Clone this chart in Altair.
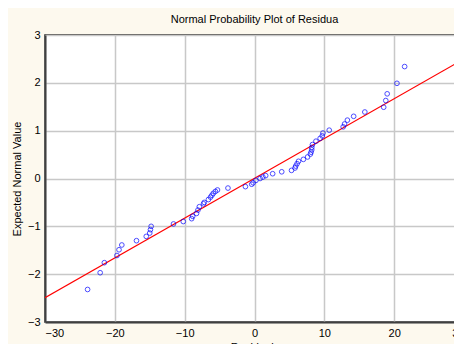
import altair as alt
import pandas as pd

residuals = [-23.9, -22.1, -21.5, -19.7, -19.4, -19.0, -16.9, -15.5, -15.0, -14.9, -14.8,
             -11.6, -10.2, -9.0, -8.85, -8.3, -8.1, -7.9, -7.3, -7.2, -6.6, -6.3, -6.1, -5.9,
             -5.6, -5.3, -3.8, -1.3, -0.4, -0.2, 0.2, 0.8, 1.2, 1.6, 2.6, 3.9, 5.3, 5.8, 5.9,
             6.1, 6.3, 7.0, 7.6, 8.0, 8.1, 8.2, 8.2, 8.3, 8.8, 9.4, 9.7, 9.8, 10.7, 12.7, 12.9,
             13.3, 14.2, 15.8, 18.5, 18.8, 19.0, 20.4, 21.5]
expected = [-2.32, -1.97, -1.76, -1.61, -1.49, -1.39, -1.30, -1.21, -1.14, -1.07, -1.00,
            -0.95, -0.90, -0.84, -0.79, -0.73, -0.66, -0.59, -0.53, -0.50, -0.44, -0.39, -0.35, -0.31,
            -0.27, -0.24, -0.20, -0.17, -0.12, -0.09, -0.04, 0.00, 0.03, 0.06, 0.10, 0.14, 0.17, 0.22, 0.26,
            0.31, 0.36, 0.40, 0.45, 0.51, 0.55, 0.60, 0.65, 0.71, 0.78, 0.84, 0.89, 0.95, 1.01, 1.08, 1.14,
            1.22, 1.30, 1.39, 1.49, 1.63, 1.77, 1.99, 2.34]

line_x = [-30, 30]
line_y = [-2.49, 2.5]

pts = pd.DataFrame({"x": residuals, "y": expected})
ln = pd.DataFrame({"x": line_x, "y": line_y})

xs = alt.Scale(domain=[-30, 30], nice=False, zero=False)
ys = alt.Scale(domain=[-3, 3], nice=False, zero=False)

xaxis = alt.Axis(values=[-30, -20, -10, 0, 10, 20, 30], title="Residuals", ticks=False,
                 labelPadding=5, titlePadding=3, gridColor="#c8c8c8", gridWidth=1.5,
                 domainColor="#404040", domainWidth=2)
yaxis = alt.Axis(values=[-3, -2, -1, 0, 1, 2, 3], title="Expected Normal Value", ticks=False,
                 labelPadding=5, titlePadding=5, gridColor="#c8c8c8", gridWidth=1.5,
                 domainColor="#404040", domainWidth=2)

line = alt.Chart(ln).mark_line(color="#ff0000", strokeWidth=1.2, clip=True).encode(
    x=alt.X("x:Q", scale=xs, axis=xaxis),
    y=alt.Y("y:Q", scale=ys, axis=yaxis),
)
points = alt.Chart(pts).mark_point(shape="circle", filled=False, color="#0000ff",
                                   size=22, strokeWidth=1).encode(
    x=alt.X("x:Q", scale=xs),
    y=alt.Y("y:Q", scale=ys),
)

chart = alt.layer(line, points).properties(
    width=419, height=287,
    title=alt.TitleParams("Normal Probability Plot of Residua", fontSize=11, fontWeight="normal",
                          font="Liberation Sans", color="#000000", offset=4),
    autosize=alt.AutoSizeParams(type="none"),
    padding={"left": 37, "top": 27, "right": -10, "bottom": 22},
    background="#fdf9ee",
).configure_view(
    stroke="#202020", strokeWidth=1.5, fill="white"
).configure_axis(
    labelFont="Liberation Sans", labelFontSize=11, labelColor="#000000",
    titleFont="Liberation Sans", titleFontSize=11, titleFontWeight="normal", titleColor="#000000",
)

chart.save("out.html", embed_options={"renderer": "svg", "actions": False})
